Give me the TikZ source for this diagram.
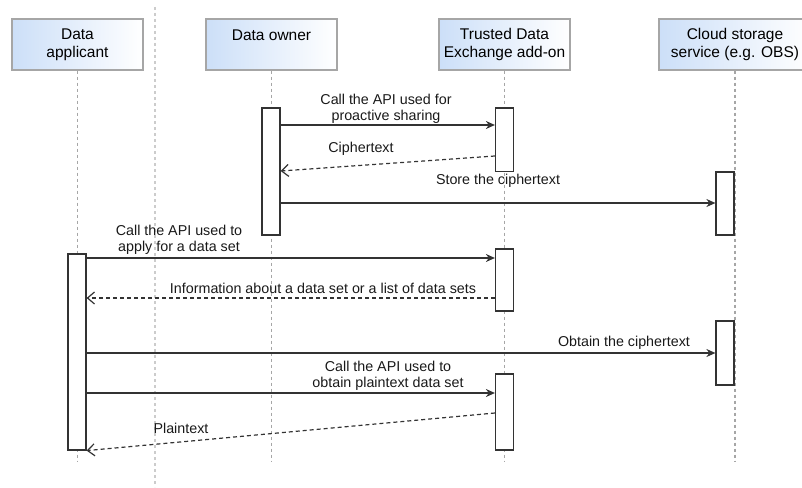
\documentclass[tikz,border=0pt]{standalone}
\usepackage{fontspec}
\setmainfont{Liberation Sans}
\usetikzlibrary{arrows.meta}
\definecolor{headfill}{HTML}{CCDFF8}
\definecolor{headline}{HTML}{A6A6A6}
\definecolor{sepline}{HTML}{CCCCCC}
\definecolor{msgline}{HTML}{333333}
\tikzset{
  head/.style={draw=headline, line width=1.2pt, left color=headfill, middle color=headfill!55,
    right color=white, minimum width=131pt, minimum height=51pt, align=center, inner sep=0pt,
    font=\fontsize{15.5}{18}\selectfont},
  act/.style={draw=msgline, fill=white, line width=1.2pt, minimum width=18pt, inner sep=0pt},
  life/.style={headline, line width=1.5pt, dash pattern=on 3pt off 3pt},
  call/.style={msgline, line width=1.3pt, -{Stealth[length=9pt,width=8pt]}},
  reply/.style={msgline, line width=1.2pt, dash pattern=on 4pt off 3pt,
    -{Straight Barb[length=7pt,width=12pt]}},
  msg/.style={font=\fontsize{14.3}{16}\selectfont, align=center, text=black!90, inner sep=0pt}
}
\begin{document}
\begin{tikzpicture}[x=1pt,y=-1pt]
\clip (0,0) rectangle (802,487);
% participants
\node[head] (hApp) at (77.5,44.5) {Data\\applicant};
\node[head] (hOwn) at (271.5,44.5) {Data owner\\~};
\node[head] (hTde) at (504.5,44.5) {Trusted Data\\Exchange add-on};
\node[head, minimum width=152pt] (hCld) at (735,44.5) {Cloud storage\\service (e.g. OBS)};
% separator and lifelines
\draw[life, sepline] (155,7) -- (155,487);
\draw[life] (hApp.south) -- (hApp.south |- 0,462);
\draw[life] (hOwn.south) -- (hOwn.south |- 0,462);
\draw[life] (hTde.south) -- (hTde.south |- 0,462);
\draw[life] (hCld.south) -- (hCld.south |- 0,462);
% activations
\node[act, minimum height=127pt] (own1) at (271,171.5) {};
\node[act, minimum height=63.5pt] (tde1) at (504.5,139.75) {};
\node[act, minimum height=63pt] (cld1) at (725,203.5) {};
\node[act, minimum height=196pt] (app1) at (77,352) {};
\node[act, minimum height=62pt] (tde2) at (504.5,280) {};
\node[act, minimum height=64pt] (cld2) at (725,353) {};
\node[act, minimum height=76pt] (tde3) at (504.5,412) {};
% messages
\draw[call] (own1.east |- 0,125) -- (tde1.west |- 0,125);
\node[msg] (m1) at (386,109) {Call the API used for\\proactive sharing};
\draw[reply] (tde1.west |- 0,156) -- (own1.east |- 0,171);
\node[msg] (m2) at (361,149) {Ciphertext};
\draw[call] (own1.east |- 0,203) -- (cld1.west |- 0,203);
\node[msg] (m3) at (498,181) {Store the ciphertext};
\draw[call] (app1.east |- 0,258) -- (tde2.west |- 0,258);
\node[msg] (m4) at (179,240) {Call the API used to\\apply for a data set};
\draw[reply] (tde2.west |- 0,298) -- (app1.east |- 0,298);
\node[msg] (m5) at (323,288) {Information about a data set or a list of data sets};
\draw[call] (app1.east |- 0,353) -- (cld2.west |- 0,353);
\node[msg] (m6) at (624,343) {Obtain the ciphertext};
\draw[call] (app1.east |- 0,393) -- (tde3.west |- 0,393);
\node[msg] (m7) at (388,376) {Call the API used to\\obtain plaintext data set};
\draw[reply] (tde3.west |- 0,413) -- (app1.south east);
\node[msg] (m8) at (181,428) {Plaintext};
\end{tikzpicture}
\end{document}
